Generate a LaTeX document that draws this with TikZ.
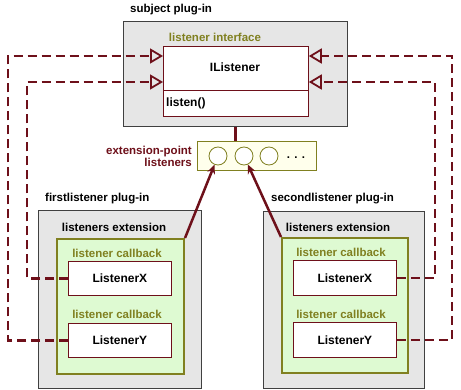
\documentclass[tikz,border=0pt]{standalone}
\usepackage{fontspec}
\setmainfont{Liberation Sans}
\usetikzlibrary{arrows.meta,calc}
\definecolor{maroon}{RGB}{110,16,26}
\definecolor{olivetxt}{RGB}{128,128,32}
\definecolor{greenfill}{RGB}{222,250,210}
\definecolor{grayfill}{RGB}{230,230,230}
\definecolor{extfill}{RGB}{255,255,236}
\tikzset{
  lbl/.style={font=\bfseries\fontsize{11.5}{12}\selectfont, inner sep=0pt},
  olbl/.style={lbl, text=olivetxt},
  plugin/.style={draw=black!75, line width=0.8pt, fill=grayfill, anchor=north west, inner sep=0pt},
  extbox/.style={draw=olivetxt, line width=2pt, fill=greenfill, anchor=north west, inner sep=0pt},
  cls/.style={draw=maroon, line width=0.8pt, fill=white, anchor=north west, inner sep=0pt,
    font=\bfseries\fontsize{12}{13}\selectfont},
  slot/.style={circle, draw=olivetxt, line width=0.8pt, fill=white, minimum size=18pt, inner sep=0pt},
  dep/.style={draw=maroon, line width=2.4pt, dash pattern=on 9pt off 5pt,
    -{Triangle[open, length=13pt, width=15pt, line width=1.8pt]}},
  link/.style={draw=maroon, line width=2.5pt},
  plug/.style={draw=maroon, line width=2.5pt, -{Stealth[length=9pt, width=8pt]}},
}
\begin{document}
\begin{tikzpicture}[x=1pt, y=-1pt]
\useasboundingbox[fill=white] (0,0) rectangle (461,390);

% subject plug-in
\node[lbl, anchor=west] (subjlbl) at (130,10) {subject plug-in};
\node[plugin, minimum width=224pt, minimum height=105pt] (subj) at (123,21) {};
\node[olbl] (iflbl) at (215,37) {listener interface};
\node[cls, minimum width=145pt, minimum height=70pt] (il) at (163,46) {};
\node[font=\bfseries\fontsize{12}{13}\selectfont, inner sep=0pt] (iltxt) at (235,67) {IListener};
\draw[maroon, line width=0.8pt] (163,90) -- (308,90);
\node[lbl, anchor=west, font=\bfseries\fontsize{12}{13}\selectfont] (listen) at (166,103) {listen()};

% extension point
\node[draw=olivetxt, line width=0.8pt, fill=extfill, anchor=north west, minimum width=119pt, minimum height=29pt, inner sep=0pt] (ext) at (197,141) {};
\node[slot] (c1) at (218,156) {};
\node[slot] (c2) at (244,156) {};
\node[slot] (c3) at (269,156) {};
\node[lbl] (dots) at (296,158) {. . .};
\node[lbl, text=maroon, align=right, anchor=east] (eplbl) at (192,156.5) {extension-point\\listeners};
\draw[link] (subj.south) -- (subj.south |- ext.north);

% firstlistener plug-in
\node[lbl, anchor=west] (fl) at (45,199) {firstlistener plug-in};
\node[plugin, minimum width=163pt, minimum height=178pt] (p1) at (38,210) {};
\node[lbl] (le1) at (114,227) {listeners extension};
\node[extbox, minimum width=127pt, minimum height=135pt] (g1) at (56,238) {};
\node[olbl] (cb1a) at (117,253) {listener callback};
\node[cls, minimum width=103pt, minimum height=34pt] (lx1) at (68,261) {};
\node[font=\bfseries\fontsize{12}{13}\selectfont, inner sep=0pt] at (lx1.center) {ListenerX};
\node[olbl] (cb1b) at (117,314) {listener callback};
\node[cls, minimum width=103pt, minimum height=34pt] (ly1) at (68,323) {};
\node[font=\bfseries\fontsize{12}{13}\selectfont, inner sep=0pt] at (ly1.center) {ListenerY};

% secondlistener plug-in
\node[lbl, anchor=west] (sl) at (271,199) {secondlistener plug-in};
\node[plugin, minimum width=161pt, minimum height=177pt] (p2) at (263,211) {};
\node[lbl] (le2) at (338,227) {listeners extension};
\node[extbox, minimum width=126pt, minimum height=135pt] (g2) at (281,237) {};
\node[olbl] (cb2a) at (341,252) {listener callback};
\node[cls, minimum width=103pt, minimum height=35pt] (lx2) at (293,260) {};
\node[font=\bfseries\fontsize{12}{13}\selectfont, inner sep=0pt] at (lx2.center) {ListenerX};
\node[olbl] (cb2b) at (341,314) {listener callback};
\node[cls, minimum width=103pt, minimum height=35pt] (ly2) at (293,322) {};
\node[font=\bfseries\fontsize{12}{13}\selectfont, inner sep=0pt] at (ly2.center) {ListenerY};

% plug-in arrows
\draw[plug] (g1.north east) -- (c1);
\draw[plug] (g2.north west) -- (c2);

% dependency dashed lines
\draw[dep] (ly1.west) -- ++(-60,0) |- ($(il.north west)+(0,10)$);
\draw[dep] (lx1.west) -- ++(-41,0) |- ($(il.north west)+(0,36)$);
\draw[dep] (lx2.east) -- ++(38,0) |- ($(il.north east)+(0,36)$);
\draw[dep] (ly2.east) -- ++(55,0) |- ($(il.north east)+(0,10)$);
\end{tikzpicture}
\end{document}
